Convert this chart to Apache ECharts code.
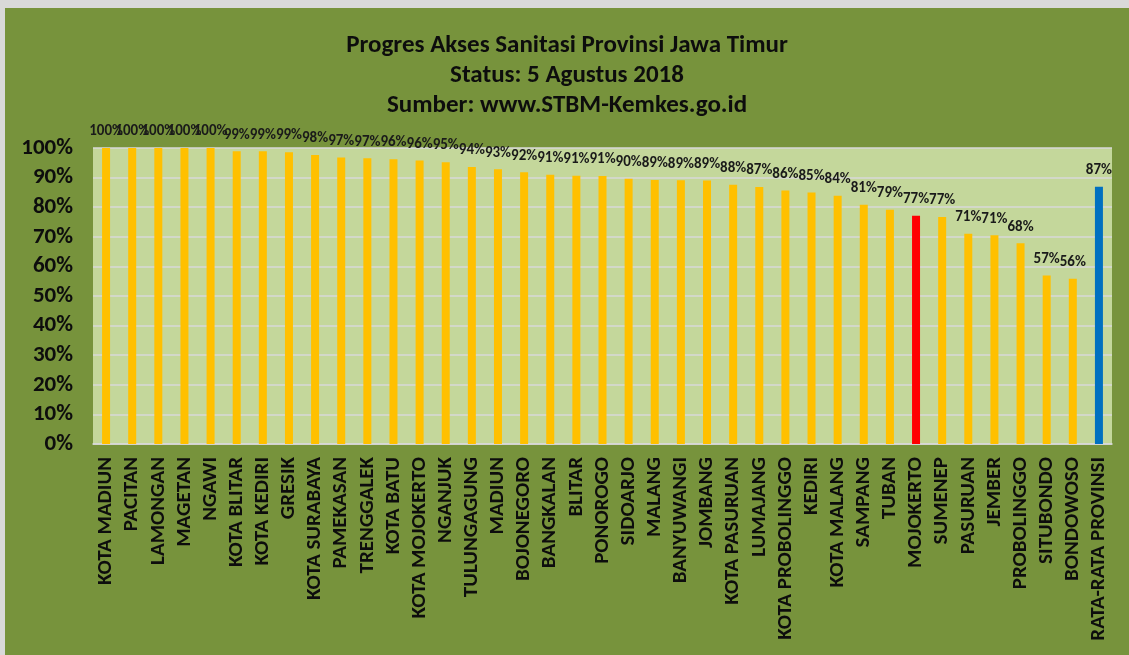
<!DOCTYPE html>
<html>
<head>
<meta charset="utf-8">
<script src="https://cdn.jsdelivr.net/npm/echarts@6/dist/echarts.min.js"></script>
<style>
  html, body { margin: 0; padding: 0; width: 1129px; height: 655px; background: #d9d9d9; overflow: hidden; }
  #chart { position: absolute; left: 5px; top: 8px; width: 1124px; height: 647px; background: #77933c; }
</style>
</head>
<body>
<div id="chart"></div>
<script>
const titleLines = [
  'Progres Akses Sanitasi Provinsi Jawa Timur',
  'Status: 5 Agustus 2018',
  'Sumber: www.STBM-Kemkes.go.id'
];
const categories = [
  'KOTA MADIUN', 'PACITAN', 'LAMONGAN', 'MAGETAN', 'NGAWI', 'KOTA BLITAR', 'KOTA KEDIRI',
  'GRESIK', 'KOTA SURABAYA', 'PAMEKASAN', 'TRENGGALEK', 'KOTA BATU', 'KOTA MOJOKERTO',
  'NGANJUK', 'TULUNGAGUNG', 'MADIUN', 'BOJONEGORO', 'BANGKALAN', 'BLITAR', 'PONOROGO',
  'SIDOARJO', 'MALANG', 'BANYUWANGI', 'JOMBANG', 'KOTA PASURUAN', 'LUMAJANG',
  'KOTA PROBOLINGGO', 'KEDIRI', 'KOTA MALANG', 'SAMPANG', 'TUBAN', 'MOJOKERTO', 'SUMENEP',
  'PASURUAN', 'JEMBER', 'PROBOLINGGO', 'SITUBONDO', 'BONDOWOSO', 'RATA-RATA PROVINSI'
];
const values = [
  100, 100, 100, 100, 100, 98.9, 98.9,
  98.6, 97.6, 96.8, 96.5, 96.2, 95.8,
  95.2, 93.6, 92.8, 91.8, 91.0, 90.6, 90.5,
  89.6, 89.2, 89.1, 89.0, 87.6, 86.8,
  85.6, 85.0, 83.9, 80.8, 79.1, 77.1, 76.7,
  71.0, 70.5, 67.8, 56.9, 55.8, 86.9
];
const yTicks = [0, 10, 20, 30, 40, 50, 60, 70, 80, 90, 100];
const highlightRegion = 'MOJOKERTO';
const averageLabel = 'RATA-RATA PROVINSI';

const FONT = 'Carlito, Lato, "Open Sans", sans-serif';
const chart = echarts.init(document.getElementById('chart'));
chart.setOption({
  backgroundColor: '#77933c',
  animation: false,
  title: {
    text: titleLines.join('\n'),
    left: 'center',
    top: 18,
    textStyle: { fontFamily: FONT, fontWeight: 'bold', fontSize: 25, lineHeight: 30, color: '#0d0d0d' }
  },
  grid: {
    left: 88, right: 17, top: 140, bottom: 211,
    show: true, backgroundColor: '#c4d79b', borderWidth: 0
  },
  xAxis: {
    type: 'category',
    data: categories,
    axisLine: { lineStyle: { color: '#d9d9d9', width: 1.5 } },
    axisTick: { show: false },
    axisLabel: {
      interval: 0, rotate: 90, margin: 13,
      fontFamily: FONT, fontWeight: 'bold', fontSize: 21, color: '#0d0d0d'
    }
  },
  yAxis: {
    type: 'value',
    min: yTicks[0], max: yTicks[yTicks.length - 1], interval: yTicks[1] - yTicks[0],
    axisLine: { show: false },
    axisTick: { show: false },
    splitLine: { lineStyle: { color: '#d9d9d9', width: 1.5 } },
    axisLabel: {
      margin: 20, formatter: '{value}%',
      fontFamily: FONT, fontWeight: 'bold', fontSize: 23, color: '#0d0d0d'
    }
  },
  series: [{
    type: 'bar',
    barWidth: 8,
    data: values.map((v, i) => ({
      value: v,
      itemStyle: {
        color: categories[i] === highlightRegion ? '#ff0000'
             : categories[i] === averageLabel ? '#0070c0' : '#ffc000'
      }
    })),
    label: {
      show: true, position: 'top', distance: 9,
      formatter: p => Math.round(p.value) + '%',
      fontFamily: FONT, fontWeight: 'bold', fontSize: 15, color: '#1a1a1a'
    }
  }]
});
</script>
</body>
</html>
